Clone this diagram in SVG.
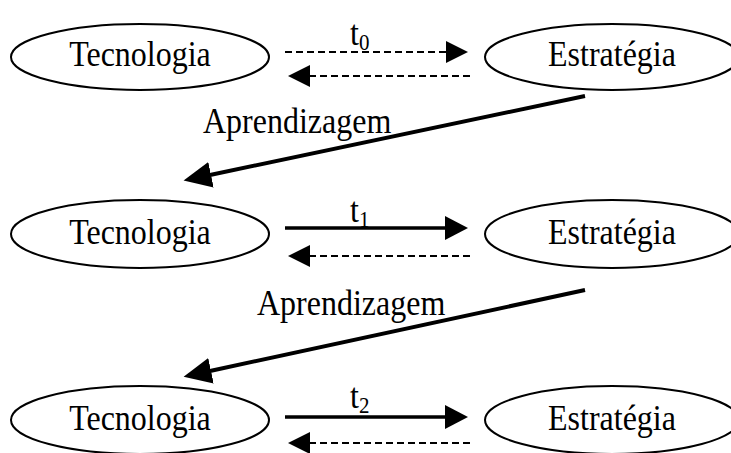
<svg xmlns="http://www.w3.org/2000/svg" width="731" height="453" viewBox="0 0 731 453" font-family="'Liberation Serif', 'Times New Roman', Times, 'DejaVu Serif', serif">
<style>
.node ellipse{fill:#fff;stroke:#000;stroke-width:2}
text{font-family:'Liberation Serif','Times New Roman',Times,'DejaVu Serif',serif;font-size:32px;fill:#000}
.lbl{text-anchor:middle}
.dash{stroke:#000;stroke-width:2;stroke-dasharray:7 4;fill:none}
.solid{stroke:#000;stroke-width:3.5;fill:none}
.diag{stroke:#000;stroke-width:4;fill:none}
</style>
<defs>
<marker id="ahD" markerUnits="userSpaceOnUse" markerWidth="24" markerHeight="22" viewBox="0 0 24 22" refX="1" refY="11" orient="auto"><path d="M0,0 L22,11 L0,22 z" fill="#000"/></marker>
<marker id="ahS" markerUnits="userSpaceOnUse" markerWidth="24" markerHeight="24" viewBox="0 0 24 24" refX="1" refY="12" orient="auto"><path d="M0,0 L23,12 L0,24 z" fill="#000"/></marker>
<marker id="ahL" markerUnits="userSpaceOnUse" markerWidth="30" markerHeight="26" viewBox="0 0 30 26" refX="1" refY="13" orient="auto"><path d="M0,0 L28,13 L0,26 z" fill="#000"/></marker>
</defs>
<g id="tec0" class="node"><ellipse cx="140" cy="57" rx="129" ry="33"/><text class="lbl" x="140" y="66" transform="matrix(1,0,0,1.1,0,-6.6)">Tecnologia</text></g>
<g id="est0" class="node"><ellipse cx="612" cy="57" rx="127" ry="33"/><text class="lbl" x="612" y="66" transform="matrix(1,0,0,1.1,0,-6.6)">Estratégia</text></g>
<g id="tec1" class="node"><ellipse cx="140" cy="234" rx="129" ry="34"/><text class="lbl" x="140" y="244" transform="matrix(1,0,0,1.1,0,-24.4)">Tecnologia</text></g>
<g id="est1" class="node"><ellipse cx="612" cy="234" rx="127" ry="34"/><text class="lbl" x="612" y="244" transform="matrix(1,0,0,1.1,0,-24.4)">Estratégia</text></g>
<g id="tec2" class="node"><ellipse cx="140" cy="420" rx="129" ry="34"/><text class="lbl" x="140" y="430" transform="matrix(1,0,0,1.1,0,-43)">Tecnologia</text></g>
<g id="est2" class="node"><ellipse cx="612" cy="420" rx="127" ry="34"/><text class="lbl" x="612" y="430" transform="matrix(1,0,0,1.1,0,-43)">Estratégia</text></g>
<g id="connectors">
<line class="dash" x1="285" y1="52" x2="447" y2="52" marker-end="url(#ahD)"/>
<line class="dash" x1="470" y1="76" x2="309" y2="76" marker-end="url(#ahD)"/>
<line class="solid" x1="285" y1="228" x2="446" y2="228" marker-end="url(#ahS)"/>
<line class="dash" x1="470" y1="256" x2="309" y2="256" marker-end="url(#ahD)"/>
<line class="solid" x1="285" y1="417" x2="446" y2="417" marker-end="url(#ahS)"/>
<line class="dash" x1="470" y1="443" x2="309" y2="443" marker-end="url(#ahD)"/>
<line class="diag" x1="585" y1="96" x2="210" y2="175" marker-end="url(#ahL)"/>
<line class="diag" x1="585" y1="290" x2="210" y2="371" marker-end="url(#ahL)"/>
</g>
<g id="labels">
<text x="350" y="45" transform="matrix(1,0,0,1.1,0,-4.5)">t<tspan font-size="21" dy="5">0</tspan></text>
<text x="350" y="222" transform="matrix(1,0,0,1.1,0,-22.2)">t<tspan font-size="21" dy="5">1</tspan></text>
<text x="350" y="408" transform="matrix(1,0,0,1.1,0,-40.8)">t<tspan font-size="21" dy="5">2</tspan></text>
<text x="203" y="133" transform="matrix(1,0,0,1.1,0,-13.3)">Aprendizagem</text>
<text x="257" y="315" transform="matrix(1,0,0,1.1,0,-31.5)">Aprendizagem</text>
</g>
</svg>
